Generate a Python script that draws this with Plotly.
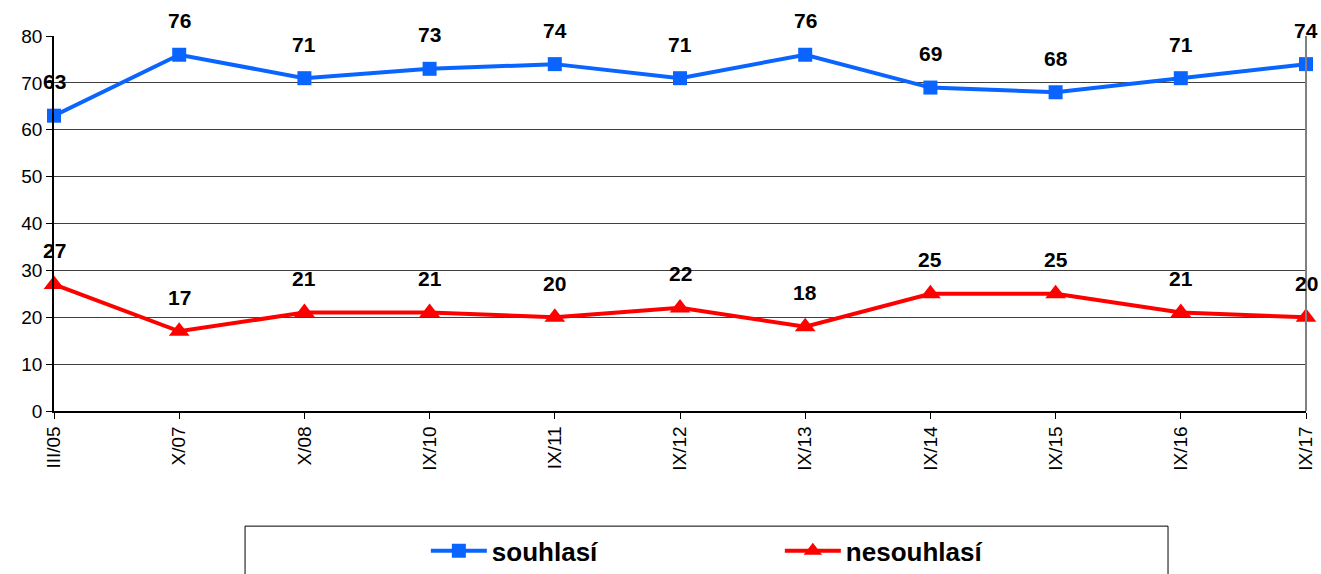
import plotly.graph_objects as go

CATEGORIES = ["III/05", "X/07", "X/08", "IX/10", "IX/11", "IX/12", "IX/13", "IX/14", "IX/15", "IX/16", "IX/17"]
SOUHLASI = [63, 76, 71, 73, 74, 71, 76, 69, 68, 71, 74]
NESOUHLASI = [27, 17, 21, 21, 20, 22, 18, 25, 25, 21, 20]

BLUE = "#0A64FF"
RED = "#FF0000"
FONT = "Liberation Sans, Arial, sans-serif"

fig = go.Figure()
fig.add_trace(
    go.Scatter(
        x=CATEGORIES, y=SOUHLASI, name="souhlasí", mode="lines+markers",
        line={"color": BLUE, "width": 4},
        marker={"symbol": "square", "size": 14, "color": BLUE},
        cliponaxis=False,
    )
)
fig.add_trace(
    go.Scatter(
        x=CATEGORIES, y=NESOUHLASI, name="nesouhlasí", mode="lines+markers",
        line={"color": RED, "width": 4},
        marker={"symbol": "triangle-up", "size": 18, "color": RED},
        cliponaxis=False,
    )
)

# data labels above each point
for series in (SOUHLASI, NESOUHLASI):
    for cat, val in zip(CATEGORIES, series):
        fig.add_annotation(
            x=cat, y=val, text=f"<b>{val}</b>", showarrow=False, yshift=34,
            font={"family": FONT, "size": 21, "color": "black"},
        )

fig.update_layout(
    width=1321, height=574,
    margin={"l": 54, "r": 15, "t": 36, "b": 163, "autoexpand": False},
    paper_bgcolor="white", plot_bgcolor="white",
    font={"family": FONT, "size": 19, "color": "black"},
    showlegend=True,
    legend={
        "orientation": "h", "x": 0.297, "y": -0.373, "xanchor": "left", "yanchor": "middle",
        "font": {"family": FONT, "size": 26, "color": "black", "weight": "bold"},
        "entrywidth": 283, "itemwidth": 56, "bgcolor": "rgba(0,0,0,0)",
    },
    shapes=[
        {"type": "rect", "xref": "paper", "yref": "paper", "x0": 0.1526, "x1": 0.8898,
         "y0": -0.307, "y1": -0.46, "line": {"color": "black", "width": 1}},
        {"type": "line", "xref": "paper", "yref": "paper", "x0": 1, "x1": 1,
         "y0": 0, "y1": 1, "line": {"color": "#808080", "width": 2}},
    ],
)
fig.update_xaxes(
    type="category", range=[0, 10], tickangle=-90, showgrid=False,
    showline=True, linecolor="black", linewidth=1.5,
    ticks="outside", ticklen=6, tickcolor="black",
    tickfont={"family": FONT, "size": 19},
)
fig.update_yaxes(
    range=[0, 80], dtick=10, showgrid=True, gridcolor="#404040", gridwidth=1,
    showline=True, linecolor="black", linewidth=1.5, zeroline=False,
    ticks="outside", ticklen=6, tickcolor="black",
    tickfont={"family": FONT, "size": 19},
)

# drop the default body margin so the figure sits at the window origin
fig.write_html(
    "out.html",
    config={"displayModeBar": False},
    post_script="document.body.style.margin='0';",
)
